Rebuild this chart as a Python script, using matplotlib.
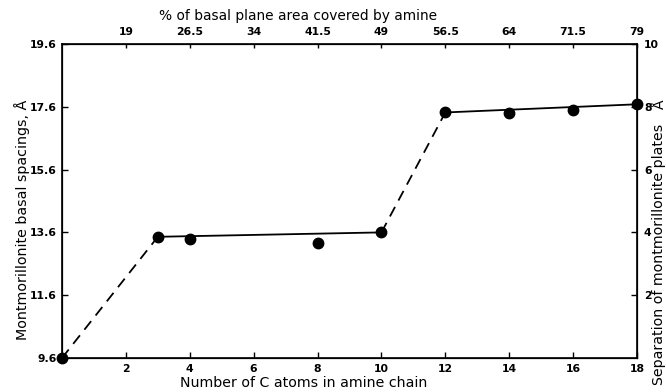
import matplotlib
matplotlib.use("Agg")
import matplotlib.pyplot as plt

# ---- data ----
carbon_atoms = [0, 3, 4, 8, 10, 12, 14, 16, 18]
basal_spacing = [9.6, 13.46, 13.39, 13.27, 13.6, 17.42, 17.39, 17.51, 17.68]

solid1_x = [3, 10]
solid1_y = [13.46, 13.6]
solid2_x = [12, 18]
solid2_y = [17.42, 17.68]
dash1_x = [0, 3]
dash1_y = [9.6, 13.46]
dash2_x = [10, 12]
dash2_y = [13.6, 17.42]

left_ticks = [9.6, 11.6, 13.6, 15.6, 17.6, 19.6]
left_labels = ["9.6", "11.6", "13.6", "15.6", "17.6", "19.6"]
bottom_ticks = [2, 4, 6, 8, 10, 12, 14, 16, 18]
bottom_labels = ["2", "4", "6", "8", "10", "12", "14", "16", "18"]
top_labels = ["19", "26.5", "34", "41.5", "49", "56.5", "64", "71.5", "79"]
right_ticks = [2, 4, 6, 8, 10]
right_labels = ["2", "4", "6", "8", "10"]

plt.rcParams['font.family'] = ['DejaVu Sans']

fig = plt.figure(figsize=(6.66, 3.92), dpi=100)
ax = fig.add_axes([62/666, 1-358/392, (637-62)/666, (358-44)/392])

lw = 1.3
ax.plot(solid1_x, solid1_y, color='black', lw=lw, solid_capstyle='butt')
ax.plot(solid2_x, solid2_y, color='black', lw=lw, solid_capstyle='butt')
ax.plot(dash1_x, dash1_y, color='black', lw=lw, dashes=(6, 4))
ax.plot(dash2_x, dash2_y, color='black', lw=lw, dashes=(6, 4))
ax.plot(carbon_atoms, basal_spacing, 'o', color='black', ms=7.5, clip_on=False, zorder=5)

ax.set_xlim(0, 18)
ax.set_ylim(9.6, 19.6)
for s in ax.spines.values():
    s.set_linewidth(1.2)

tick_font = dict(fontsize=7.8, fontweight='bold')
ax.set_yticks(left_ticks)
ax.set_yticklabels(left_labels, **tick_font)
ax.set_xticks(bottom_ticks)
ax.set_xticklabels(bottom_labels, **tick_font)
ax.tick_params(direction='in', length=4, width=1, pad=4)

axr = ax.twinx()
axr.set_ylim(0, 10)
axr.set_yticks(right_ticks)
axr.set_yticklabels(right_labels, **tick_font)
axr.tick_params(direction='in', length=4, width=1, pad=5)

axt = ax.twiny()
axt.set_xlim(0, 18)
axt.set_xticks(bottom_ticks)
axt.set_xticklabels(top_labels, **tick_font)
axt.tick_params(direction='in', length=3, width=1, pad=5)

fig.text(298/666, 1-16/392, "% of basal plane area covered by amine",
         ha='center', va='center', fontsize=9.9)
fig.text(304/666, 1-383/392, "Number of C atoms in amine chain",
         ha='center', va='center', fontsize=10.2)
fig.text(22/666, 1-220/392, "Montmorillonite basal spacings, Å",
         ha='center', va='center', rotation=90, fontsize=10.3)
fig.text(659/666, 1-254/392, "Separation of montmorillonite plates",
         ha='center', va='center', rotation=90, fontsize=10.2)
fig.text(660/666, 1-104/392, "Å",
         ha='center', va='center', rotation=90, fontsize=10.2)

fig.savefig("out.png", dpi=100)
